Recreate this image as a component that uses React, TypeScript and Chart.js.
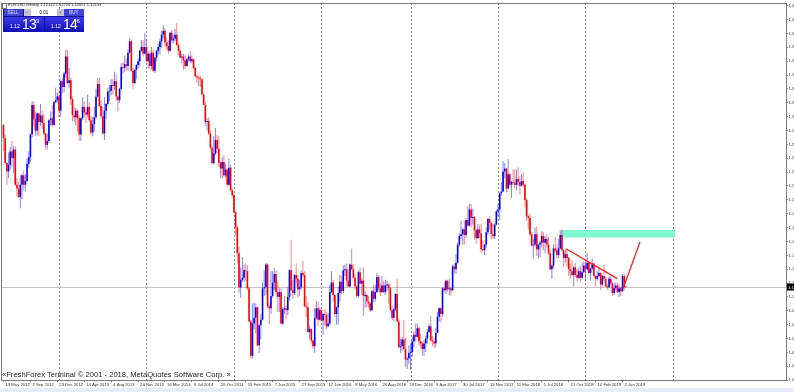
import React, { useEffect, useRef } from "react";
import { Chart, registerables } from "chart.js";
Chart.register(...registerables);

// Weekly EURUSD candles, one per week starting 13 May 2012 (index = week number)
const opens = [
  1.292,1.278,1.252,1.243,1.250,1.264,1.257,1.266,1.229,1.225,
  1.216,1.229,1.239,1.229,1.233,1.251,1.258,1.282,1.313,1.298,
  1.286,1.304,1.295,1.302,1.294,1.283,1.271,1.275,1.297,1.299,
  1.292,1.316,1.318,1.322,1.307,1.338,1.332,1.346,1.364,1.336,
  1.339,1.319,1.302,1.300,1.307,1.299,1.282,1.299,1.311,1.305,
  1.303,1.311,1.297,1.284,1.293,1.300,1.322,1.335,1.312,1.301,
  1.283,1.307,1.314,1.327,1.328,1.334,1.333,1.338,1.322,1.318,
  1.330,1.353,1.352,1.356,1.354,1.368,1.380,1.349,1.336,1.350,
  1.355,1.359,1.370,1.374,1.367,1.374,1.359,1.367,1.354,1.368,
  1.349,1.363,1.370,1.374,1.380,1.387,1.391,1.379,1.375,1.370,
  1.389,1.381,1.383,1.387,1.376,1.370,1.363,1.364,1.360,1.354,
  1.361,1.364,1.359,1.361,1.352,1.343,1.342,1.341,1.340,1.324,
  1.313,1.295,1.296,1.283,1.268,1.252,1.262,1.276,1.267,1.252,
  1.246,1.253,1.239,1.245,1.229,1.247,1.223,1.218,1.200,1.184,
  1.157,1.121,1.129,1.131,1.139,1.138,1.120,1.085,1.049,1.083,
  1.089,1.100,1.060,1.081,1.087,1.120,1.121,1.145,1.101,1.099,
  1.112,1.126,1.135,1.116,1.111,1.116,1.083,1.098,1.099,1.097,
  1.111,1.139,1.118,1.115,1.134,1.130,1.119,1.121,1.136,1.134,
  1.101,1.100,1.074,1.077,1.065,1.059,1.089,1.099,1.087,1.097,
  1.086,1.093,1.092,1.080,1.083,1.116,1.126,1.113,1.093,1.100,
  1.115,1.127,1.117,1.139,1.140,1.128,1.122,1.145,1.140,1.131,
  1.122,1.112,1.137,1.125,1.128,1.112,1.113,1.106,1.104,1.097,
  1.117,1.109,1.116,1.132,1.120,1.116,1.123,1.116,1.123,1.124,
  1.120,1.097,1.089,1.098,1.114,1.085,1.058,1.059,1.066,1.056,
  1.045,1.046,1.052,1.053,1.064,1.071,1.069,1.078,1.064,1.062,
  1.056,1.062,1.067,1.074,1.080,1.065,1.064,1.062,1.073,1.090,
  1.099,1.093,1.120,1.118,1.128,1.119,1.120,1.118,1.143,1.140,
  1.147,1.166,1.175,1.177,1.182,1.176,1.192,1.186,1.203,1.194,
  1.195,1.181,1.173,1.182,1.178,1.161,1.160,1.166,1.179,1.193,
  1.189,1.177,1.175,1.187,1.201,1.203,1.220,1.222,1.243,1.246,
  1.225,1.240,1.229,1.232,1.231,1.229,1.235,1.232,1.228,1.233,
  1.229,1.213,1.196,1.194,1.177,1.165,1.166,1.177,1.161,1.166,
  1.168,1.175,1.168,1.172,1.166,1.157,1.140,1.144,1.162,1.160,
  1.155,1.162,1.176,1.160,1.152,1.156,1.152,1.140,1.138,1.134,
  1.142,1.134,1.131,1.138,1.131,1.137,1.144,1.140,1.147,1.136,
  1.141,1.146,1.133,1.130,1.133,1.136,1.124,1.133,1.130,1.122,
  1.121,1.130,1.125,1.115,1.120,1.123,1.116,1.120,1.117,1.133,
  1.1214,
];
const highs = [
  1.293,1.282,1.253,1.263,1.269,1.275,1.270,1.269,1.236,1.232,
  1.239,1.240,1.244,1.240,1.257,1.264,1.283,1.317,1.317,1.306,
  1.305,1.305,1.314,1.307,1.303,1.284,1.283,1.298,1.306,1.313,
  1.317,1.331,1.326,1.330,1.340,1.342,1.348,1.371,1.371,1.352,
  1.342,1.322,1.311,1.310,1.308,1.302,1.300,1.321,1.317,1.310,
  1.324,1.316,1.301,1.300,1.311,1.330,1.341,1.342,1.318,1.311,
  1.321,1.315,1.331,1.334,1.340,1.340,1.348,1.345,1.323,1.331,
  1.357,1.358,1.365,1.362,1.371,1.383,1.382,1.352,1.351,1.356,
  1.362,1.371,1.381,1.381,1.389,1.383,1.369,1.370,1.374,1.371,
  1.364,1.371,1.377,1.383,1.391,1.397,1.394,1.384,1.381,1.390,
  1.392,1.387,1.393,1.399,1.378,1.372,1.367,1.367,1.366,1.362,
  1.366,1.370,1.365,1.362,1.353,1.345,1.344,1.344,1.341,1.325,
  1.316,1.299,1.300,1.286,1.270,1.280,1.289,1.281,1.280,1.254,
  1.258,1.260,1.251,1.246,1.257,1.250,1.226,1.220,1.201,1.186,
  1.164,1.142,1.153,1.145,1.146,1.144,1.122,1.087,1.104,1.105,
  1.104,1.101,1.082,1.093,1.126,1.139,1.147,1.146,1.104,1.138,
  1.138,1.141,1.139,1.127,1.120,1.120,1.100,1.112,1.102,1.121,
  1.140,1.171,1.129,1.135,1.146,1.134,1.129,1.139,1.149,1.138,
  1.112,1.105,1.081,1.078,1.066,1.099,1.106,1.106,1.100,1.099,
  1.094,1.098,1.095,1.094,1.124,1.138,1.129,1.114,1.101,1.122,
  1.134,1.133,1.144,1.145,1.146,1.140,1.146,1.162,1.145,1.134,
  1.123,1.139,1.142,1.130,1.142,1.117,1.114,1.112,1.106,1.118,
  1.123,1.124,1.136,1.134,1.125,1.133,1.128,1.129,1.128,1.125,
  1.121,1.102,1.099,1.115,1.130,1.088,1.067,1.069,1.087,1.068,
  1.048,1.060,1.062,1.069,1.075,1.083,1.083,1.080,1.072,1.064,
  1.065,1.070,1.077,1.083,1.091,1.070,1.068,1.078,1.095,1.100,
  1.100,1.121,1.127,1.129,1.129,1.130,1.121,1.145,1.146,1.156,
  1.168,1.178,1.191,1.183,1.191,1.194,1.207,1.209,1.209,1.204,
  1.196,1.183,1.188,1.186,1.188,1.170,1.167,1.184,1.194,1.196,
  1.190,1.188,1.189,1.203,1.209,1.221,1.232,1.254,1.252,1.247,
  1.256,1.241,1.233,1.245,1.245,1.245,1.248,1.238,1.240,1.242,
  1.230,1.215,1.197,1.199,1.179,1.172,1.184,1.185,1.167,1.170,
  1.180,1.179,1.175,1.177,1.174,1.161,1.145,1.166,1.174,1.167,
  1.172,1.181,1.182,1.161,1.161,1.160,1.153,1.146,1.150,1.144,
  1.147,1.140,1.142,1.144,1.147,1.148,1.150,1.157,1.148,1.142,
  1.151,1.147,1.134,1.138,1.142,1.137,1.134,1.145,1.132,1.125,
  1.132,1.133,1.127,1.126,1.126,1.126,1.124,1.122,1.135,1.135,
  1.1222,
];
const lows = [
  1.264,1.250,1.229,1.236,1.245,1.248,1.241,1.228,1.217,1.215,
  1.204,1.214,1.223,1.222,1.232,1.247,1.253,1.279,1.290,1.280,
  1.281,1.280,1.291,1.288,1.281,1.266,1.266,1.273,1.291,1.290,
  1.291,1.315,1.315,1.300,1.300,1.325,1.326,1.342,1.335,1.331,
  1.313,1.296,1.295,1.291,1.285,1.275,1.275,1.297,1.300,1.294,
  1.300,1.295,1.282,1.280,1.285,1.298,1.321,1.310,1.299,1.281,
  1.276,1.298,1.312,1.317,1.323,1.324,1.329,1.318,1.306,1.315,
  1.328,1.346,1.348,1.349,1.349,1.367,1.348,1.330,1.335,1.340,
  1.351,1.354,1.369,1.364,1.366,1.358,1.352,1.350,1.350,1.348,
  1.347,1.359,1.366,1.366,1.373,1.383,1.374,1.372,1.367,1.369,
  1.378,1.378,1.380,1.375,1.365,1.362,1.357,1.350,1.351,1.353,
  1.358,1.357,1.357,1.350,1.342,1.336,1.333,1.332,1.324,1.313,
  1.291,1.286,1.281,1.266,1.250,1.250,1.260,1.262,1.248,1.236,
  1.236,1.237,1.237,1.227,1.228,1.222,1.215,1.199,1.176,1.146,
  1.115,1.110,1.127,1.127,1.128,1.118,1.084,1.046,1.046,1.077,
  1.073,1.059,1.052,1.066,1.086,1.112,1.113,1.099,1.082,1.093,
  1.110,1.118,1.113,1.095,1.095,1.082,1.081,1.093,1.087,1.092,
  1.107,1.117,1.109,1.113,1.125,1.110,1.112,1.119,1.131,1.100,
  1.090,1.073,1.067,1.062,1.056,1.052,1.087,1.080,1.086,1.085,
  1.071,1.081,1.077,1.079,1.081,1.115,1.106,1.090,1.082,1.082,
  1.106,1.114,1.115,1.133,1.122,1.121,1.121,1.139,1.130,1.119,
  1.110,1.110,1.124,1.113,1.091,1.099,1.100,1.100,1.095,1.096,
  1.105,1.106,1.115,1.117,1.112,1.115,1.115,1.113,1.117,1.104,
  1.096,1.086,1.085,1.096,1.084,1.057,1.052,1.054,1.055,1.037,
  1.035,1.040,1.034,1.048,1.058,1.064,1.068,1.060,1.057,1.049,
  1.049,1.053,1.062,1.073,1.064,1.059,1.057,1.058,1.073,1.085,
  1.084,1.090,1.116,1.114,1.117,1.113,1.112,1.117,1.136,1.135,
  1.146,1.164,1.172,1.166,1.166,1.173,1.185,1.185,1.184,1.187,
  1.171,1.167,1.172,1.173,1.157,1.159,1.155,1.163,1.176,1.182,
  1.172,1.172,1.172,1.186,1.196,1.192,1.217,1.221,1.236,1.221,
  1.224,1.226,1.215,1.229,1.225,1.223,1.228,1.219,1.227,1.227,
  1.205,1.191,1.182,1.175,1.164,1.151,1.164,1.154,1.151,1.153,
  1.163,1.160,1.157,1.163,1.155,1.139,1.130,1.141,1.158,1.151,
  1.152,1.161,1.159,1.143,1.147,1.143,1.133,1.130,1.133,1.122,
  1.132,1.127,1.130,1.127,1.130,1.136,1.127,1.138,1.135,1.128,
  1.139,1.132,1.122,1.128,1.132,1.118,1.122,1.128,1.121,1.118,
  1.120,1.122,1.112,1.113,1.117,1.115,1.111,1.112,1.116,1.118,
  1.1205,
];
const closes = [
  1.278,1.252,1.243,1.250,1.264,1.257,1.266,1.229,1.225,1.216,
  1.229,1.239,1.229,1.233,1.251,1.258,1.282,1.313,1.298,1.286,
  1.304,1.295,1.302,1.294,1.283,1.271,1.275,1.297,1.299,1.292,
  1.316,1.318,1.322,1.307,1.338,1.332,1.346,1.364,1.336,1.339,
  1.319,1.302,1.300,1.307,1.299,1.282,1.299,1.311,1.305,1.303,
  1.311,1.297,1.284,1.293,1.300,1.322,1.335,1.312,1.301,1.283,
  1.307,1.314,1.327,1.328,1.334,1.333,1.338,1.322,1.318,1.330,
  1.353,1.352,1.356,1.354,1.368,1.380,1.349,1.336,1.350,1.355,
  1.359,1.370,1.374,1.367,1.374,1.359,1.367,1.354,1.368,1.349,
  1.363,1.370,1.374,1.380,1.387,1.391,1.379,1.375,1.370,1.389,
  1.381,1.383,1.387,1.376,1.370,1.363,1.364,1.360,1.354,1.361,
  1.364,1.359,1.361,1.352,1.343,1.342,1.341,1.340,1.324,1.313,
  1.295,1.296,1.283,1.268,1.252,1.262,1.276,1.267,1.252,1.246,
  1.253,1.239,1.245,1.229,1.247,1.223,1.218,1.200,1.184,1.157,
  1.121,1.129,1.131,1.139,1.138,1.120,1.085,1.049,1.083,1.089,
  1.100,1.060,1.081,1.087,1.120,1.121,1.145,1.101,1.099,1.112,
  1.126,1.135,1.116,1.111,1.116,1.083,1.098,1.099,1.097,1.111,
  1.139,1.118,1.115,1.134,1.130,1.119,1.121,1.136,1.134,1.101,
  1.100,1.074,1.077,1.065,1.059,1.089,1.099,1.087,1.097,1.086,
  1.093,1.092,1.080,1.083,1.116,1.126,1.113,1.093,1.100,1.115,
  1.127,1.117,1.139,1.140,1.128,1.122,1.145,1.140,1.131,1.122,
  1.112,1.137,1.125,1.128,1.112,1.113,1.106,1.104,1.097,1.117,
  1.109,1.116,1.132,1.120,1.116,1.123,1.116,1.123,1.124,1.120,
  1.097,1.089,1.098,1.114,1.085,1.058,1.059,1.066,1.056,1.045,
  1.046,1.052,1.053,1.064,1.071,1.069,1.078,1.064,1.062,1.056,
  1.062,1.067,1.074,1.080,1.065,1.064,1.062,1.073,1.090,1.099,
  1.093,1.120,1.118,1.128,1.119,1.120,1.118,1.143,1.140,1.147,
  1.166,1.175,1.177,1.182,1.176,1.192,1.186,1.203,1.194,1.195,
  1.181,1.173,1.182,1.178,1.161,1.160,1.166,1.179,1.193,1.189,
  1.177,1.175,1.187,1.201,1.203,1.220,1.222,1.243,1.246,1.225,
  1.240,1.229,1.232,1.231,1.229,1.235,1.232,1.228,1.233,1.229,
  1.213,1.196,1.194,1.177,1.165,1.166,1.177,1.161,1.166,1.168,
  1.175,1.168,1.172,1.166,1.157,1.140,1.144,1.162,1.160,1.155,
  1.162,1.176,1.160,1.152,1.156,1.152,1.140,1.138,1.134,1.142,
  1.134,1.131,1.138,1.131,1.137,1.144,1.140,1.147,1.136,1.141,
  1.146,1.133,1.130,1.133,1.136,1.124,1.133,1.130,1.122,1.121,
  1.130,1.125,1.115,1.120,1.123,1.116,1.120,1.117,1.133,1.121,
  1.1213,
];

// time axis labels (week index -> label)
const dateTickWeeks = [0,16,32,48,64,80,96,112,128,144,160,176,192,208,224,240,256,272,288,304,320,336,352,368];
const dateTickLabels = [
  "13 May 2012","2 Sep 2012","23 Dec 2012","14 Apr 2013","4 Aug 2013","24 Nov 2013",
  "16 Mar 2014","6 Jul 2014","26 Oct 2014","15 Feb 2015","7 Jun 2015","27 Sep 2015",
  "17 Jan 2016","8 May 2016","28 Aug 2016","18 Dec 2016","9 Apr 2017","30 Jul 2017",
  "19 Nov 2017","11 Mar 2018","1 Jul 2018","21 Oct 2018","10 Feb 2019","2 Jun 2019",
];
const yearStartWeeks = [33, 85, 137, 189, 242, 294, 346, 398];
const priceTicks = [
  1.4175,1.4029,1.3883,1.3737,1.3591,1.3445,1.3299,1.3153,1.3007,1.2861,
  1.2715,1.2569,1.2423,1.2277,1.2131,1.1985,1.1839,1.1693,1.1547,1.1401,
  1.1255,1.1109,1.0963,1.0817,1.0671,1.0525,1.0379,1.0233,
];
const bidPrice = 1.12133;
const headerQuote = ["1.12142", "1.12220", "1.12051", "1.12133"];

// drawn objects
const zoneWeeks = [331.3, 399.2];
const zoneTop = 1.1814;
const zoneBottom = 1.1736;
const trendWeeks = [334.4, 364.9];
const trendPrices = [1.1617, 1.1302];
const arrowWeeks = [368.6, 378.4];
const arrowPrices = [1.1208, 1.1687];

const xMin = -1.49;
const xMax = 465.2;
const yMin = 1.0235;
const yMax = 1.4203;

const FONT = "'Liberation Sans', Arial, sans-serif";

const mtPlugin = {
  id: "mtDecor",
  beforeDatasetsDraw(chart: any) {
    const { ctx, chartArea: a, scales } = chart;
    const x = scales.x, y = scales.y;
    ctx.save();
    ctx.strokeStyle = "#8c8c8c";
    ctx.lineWidth = 1;
    ctx.setLineDash([2, 2]);
    yearStartWeeks.forEach((w) => {
      const px = Math.round(x.getPixelForValue(w)) + 0.5;
      if (px < a.left || px > a.right) return;
      ctx.beginPath();
      ctx.moveTo(px, a.top);
      ctx.lineTo(px, a.bottom);
      ctx.stroke();
    });
    ctx.setLineDash([]);
    const py = Math.round(y.getPixelForValue(bidPrice)) + 0.5;
    ctx.strokeStyle = "#c4c4c4";
    ctx.beginPath();
    ctx.moveTo(a.left, py);
    ctx.lineTo(a.right, py);
    ctx.stroke();
    ctx.restore();
  },
  afterDraw(chart: any) {
    const { ctx, chartArea: a, scales } = chart;
    const y = scales.y;
    ctx.save();
    ctx.strokeStyle = "#7c7c7c";
    ctx.lineWidth = 1;
    ctx.strokeRect(a.left + 0.5, a.top + 0.5, a.right - a.left, a.bottom - a.top);
    const py = y.getPixelForValue(bidPrice);
    ctx.fillStyle = "#000";
    ctx.fillRect(a.right + 1, py - 3.5, 26, 7);
    ctx.fillStyle = "#fff";
    ctx.font = `4.2px ${FONT}`;
    ctx.textBaseline = "middle";
    ctx.textAlign = "left";
    ctx.fillText(bidPrice.toFixed(5), a.right + 2, py + 0.3);
    ctx.restore();
  },
};

function Small({ left, top, size, children, color = "#fff", scale = 0.5 }: any) {
  return (
    <div
      style={{
        position: "absolute",
        left,
        top,
        fontSize: size / scale,
        lineHeight: 1,
        transform: `scale(${scale})`,
        transformOrigin: "0 0",
        whiteSpace: "nowrap",
        color,
        fontFamily: FONT,
      }}
    >
      {children}
    </div>
  );
}

function Box({ left, top, w, h, bg, children, color = "#fff", size = 4.5 }: any) {
  return (
    <div style={{ position: "absolute", left, top, width: w, height: h, background: bg, overflow: "visible" }}>
      <div
        style={{
          position: "absolute",
          left: "50%",
          top: "50%",
          fontSize: size * 2,
          lineHeight: 1,
          transform: "translate(-50%, -50%) scale(0.5)",
          whiteSpace: "nowrap",
          color,
          fontFamily: FONT,
        }}
      >
        {children}
      </div>
    </div>
  );
}

export default function App() {
  const ref = useRef<HTMLCanvasElement>(null);
  useEffect(() => {
    const canvas = ref.current;
    if (!canvas) return;
    const up = closes.map((c, i) => c >= opens[i]);
    const wickData = closes.map((_, i) => ({ x: i, y: [lows[i], highs[i]] }));
    const bodyData = closes.map((c, i) => ({ x: i, y: [opens[i], c] }));
    const chart = new Chart(canvas, {
      type: "bar",
      data: {
        datasets: [
          {
            type: "line",
            label: "zone",
            data: zoneWeeks.map((w) => ({ x: w, y: zoneTop })),
            fill: { value: zoneBottom },
            backgroundColor: "#7ff8d0",
            borderColor: "#7ff8d0",
            borderWidth: 0,
            pointRadius: 0,
            order: 10,
          } as any,
          {
            type: "bar",
            label: "wick",
            data: wickData,
            backgroundColor: up.map((u) => (u ? "rgba(30,30,255,0.55)" : "rgba(255,30,30,0.55)")),
            barThickness: 1,
            grouped: false,
            inflateAmount: 0,
            borderWidth: 0,
            order: 5,
          } as any,
          {
            type: "bar",
            label: "body",
            data: bodyData,
            backgroundColor: up.map((u) => (u ? "#0000ff" : "#ff0000")),
            barThickness: 1.6,
            grouped: false,
            inflateAmount: 0,
            borderWidth: 0,
            minBarLength: 0.8,
            order: 4,
          } as any,
          {
            type: "line",
            label: "trend",
            data: trendWeeks.map((w, i) => ({ x: w, y: trendPrices[i] })),
            borderColor: "#ff1a1a",
            borderWidth: 1.2,
            pointRadius: 0,
            fill: false,
            order: 1,
          } as any,
          {
            type: "line",
            label: "arrow",
            data: arrowWeeks.map((w, i) => ({ x: w, y: arrowPrices[i] })),
            borderColor: "#ff1a1a",
            borderWidth: 1.2,
            pointRadius: 0,
            fill: false,
            order: 1,
          } as any,
        ],
      },
      options: {
        responsive: false,
        maintainAspectRatio: false,
        animation: false,
        devicePixelRatio: 1,
        events: [],
        layout: { padding: { left: 1, top: 2, right: 0, bottom: 0 } },
        plugins: {
          legend: { display: false },
          tooltip: { enabled: false },
          title: { display: false },
        },
        scales: {
          x: {
            type: "linear",
            position: "bottom",
            min: xMin,
            max: xMax,
            offset: false,
            afterBuildTicks: (s: any) => {
              s.ticks = dateTickWeeks.map((v) => ({ value: v }));
            },
            afterFit: (s: any) => {
              s.height = 12;
            },
            grid: { offset: false, drawOnChartArea: false, drawTicks: true, tickLength: 2, color: "#7c7c7c" },
            border: { display: false },
            ticks: {
              autoSkip: false,
              maxRotation: 0,
              minRotation: 0,
              align: "start",
              labelOffset: 2,
              padding: 0,
              color: "#333",
              font: { family: FONT, size: 4.2 },
              callback: (_v: any, i: number) => dateTickLabels[i] ?? "",
            },
          },
          y: {
            type: "linear",
            position: "right",
            min: yMin,
            max: yMax,
            afterBuildTicks: (s: any) => {
              s.ticks = priceTicks.map((v) => ({ value: v }));
            },
            afterFit: (s: any) => {
              s.width = 44;
            },
            grid: { drawOnChartArea: false, drawTicks: true, tickLength: 2, color: "#7c7c7c" },
            border: { display: false },
            ticks: {
              padding: 0.5,
              color: "#333",
              font: { family: FONT, size: 4.2 },
              callback: (_v: any, i: number) => priceTicks[i].toFixed(4),
            },
          },
        },
      } as any,
      plugins: [mtPlugin],
    });
    return () => chart.destroy();
  }, []);

  return (
    <div
      style={{
        position: "fixed",
        left: 0,
        top: 0,
        width: 794,
        height: 392,
        overflow: "hidden",
        background: "#fff",
      }}
    >
      <canvas ref={ref} width={830} height={392} style={{ position: "absolute", left: 0, top: 0, width: 830, height: 392 }} />
      <div style={{ position: "absolute", left: 0, top: 388, width: 794, height: 4, background: "#e7edf5" }} />

      {/* header */}
      <div style={{ position: "absolute", left: 1.5, top: 2.5, width: 3, height: 4, border: "0.5px solid #777", background: "#fff" }} />
      <Small left={8} top={2.6} size={4} color="#222">
        {"EURUSD,Weekly  " + headerQuote.join(" ")}
      </Small>

      {/* one-click trading panel */}
      <div style={{ position: "absolute", left: 3, top: 9, width: 81, height: 23, background: "#12129e" }} />
      <Box left={3.5} top={9.3} w={19.5} h={7.2} bg="#4444d4" color="#e6e6ff">SELL</Box>
      <Box left={23.5} top={9.3} w={7} h={7.2} bg="#c6c6d6" color="#555">−</Box>
      <Box left={30.5} top={9.3} w={26.5} h={7.2} bg="#ffffff" color="#000">0.01</Box>
      <Box left={57} top={9.3} w={6.5} h={7.2} bg="#c6c6d6" color="#555">+</Box>
      <Box left={64} top={9.3} w={19.5} h={7.2} bg="#4444d4" color="#e6e6ff">BUY</Box>
      <div style={{ position: "absolute", left: 3.5, top: 17, width: 40, height: 14.5, background: "linear-gradient(#3a3ae8, #1010b8)" }} />
      <div style={{ position: "absolute", left: 44.5, top: 17, width: 39, height: 14.5, background: "linear-gradient(#3a3ae8, #1010b8)" }} />
      <Small left={10} top={24.3} size={5}>1.12</Small>
      <div style={{ position: "absolute", left: 22, top: 17.4, fontSize: 14, lineHeight: 1, color: "#fff", fontFamily: FONT, letterSpacing: -0.8, whiteSpace: "nowrap" }}>13</div>
      <div style={{ position: "absolute", left: 36, top: 18.2, fontSize: 6, lineHeight: 1, color: "#fff", fontFamily: FONT }}>3</div>
      <Small left={51} top={24.3} size={5}>1.12</Small>
      <div style={{ position: "absolute", left: 63, top: 17.4, fontSize: 14, lineHeight: 1, color: "#fff", fontFamily: FONT, letterSpacing: -0.8, whiteSpace: "nowrap" }}>14</div>
      <div style={{ position: "absolute", left: 76.5, top: 18.2, fontSize: 6, lineHeight: 1, color: "#fff", fontFamily: FONT }}>6</div>

      {/* copyright */}
      <div
        style={{
          position: "absolute",
          left: 2,
          top: 370.5,
          fontSize: 7.6,
          lineHeight: 1,
          color: "#222",
          fontFamily: FONT,
          whiteSpace: "nowrap",
        }}
      >
        «FreshForex Terminal © 2001 - 2018, MetaQuotes Software Corp. »
      </div>
    </div>
  );
}
